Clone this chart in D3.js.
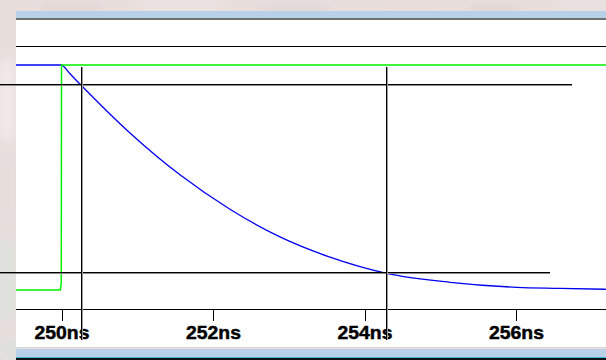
<!DOCTYPE html>
<html>
<head>
<meta charset="utf-8">
<script src="https://cdn.jsdelivr.net/npm/d3@7"></script>
<style>
  html, body { margin: 0; padding: 0; background: #e7dedc; }
  svg { display: block; }
</style>
</head>
<body>
<script>
// Time axis (ns)
const tickTimes = [250, 252, 254, 256];
const tickLabels = ["250ns", "252ns", "254ns", "256ns"];

// Falling output (blue): time in ns, normalized level
const outTimes  = [249.40, 250.00, 250.04, 250.11, 250.253, 250.904, 251.564, 252.224, 252.884, 253.545, 254.290, 255.129, 256.013, 256.581, 257.19];
const outLevels = [1.000, 1.000, 0.990, 0.962, 0.9124, 0.698, 0.512, 0.359, 0.236, 0.146, 0.0742, 0.0342, 0.0120, 0.0076, 0.0031];

// Input step (green)
const inTimes  = [249.40, 249.984, 249.997, 250.00, 257.19];
const inLevels = [0.000, 0.000, 0.031, 1.000, 1.000];

// Measurement cursors: 90% / 10% crossings
const cursorTimes  = [250.253, 254.290];
const cursorLevels = [0.9124, 0.0742];

const W = 606, H = 360;
const svg = d3.select("body").append("svg").attr("width", W).attr("height", H);

// soft textured backdrop around the window
const defs = svg.append("defs");
defs.append("filter").attr("id", "soft").attr("x", "-50%").attr("y", "-50%").attr("width", "200%").attr("height", "200%")
  .append("feGaussianBlur").attr("stdDeviation", 5);
svg.append("rect").attr("width", W).attr("height", H).attr("fill", "#e8dfdd");
const blobs = svg.append("g").attr("filter", "url(#soft)");
[
  [40, 4, 60, 8, "#e4d3d3"], [140, 2, 80, 10, "#ece4e2"], [260, 5, 70, 8, "#e1d6d5"],
  [380, 3, 60, 9, "#e9dcda"], [470, 6, 50, 8, "#ded4d2"], [560, 3, 60, 8, "#eae3e0"],
  [0, 60, 14, 80, "#f0eae8"], [0, 160, 14, 60, "#e5dfdc"], [0, 240, 14, 80, "#dde2dc"],
  [0, 340, 20, 20, "#dde0dc"]
].forEach(([x, y, w, h, c]) => blobs.append("rect").attr("x", x).attr("y", y).attr("width", w).attr("height", h).attr("fill", c));

// window chrome
const L = 16;
svg.append("rect").attr("x", L).attr("y", 11).attr("width", W - L).attr("height", 7).attr("fill", "#b8d0e8");
svg.append("rect").attr("x", L).attr("y", 18).attr("width", W - L).attr("height", 2).attr("fill", "#6f6f6f");
svg.append("rect").attr("x", L).attr("y", 20).attr("width", W - L).attr("height", 328).attr("fill", "#ffffff");
svg.append("rect").attr("x", L).attr("y", 347).attr("width", W - L).attr("height", 1).attr("fill", "#d6d6d6");
svg.append("rect").attr("x", L).attr("y", 349).attr("width", W - L).attr("height", 8).attr("fill", "#b8d0e8");
svg.append("rect").attr("x", L).attr("y", 357).attr("width", W - L).attr("height", 1).attr("fill", "#3fb8d8");
svg.append("rect").attr("x", L).attr("y", 358).attr("width", W - L).attr("height", 2).attr("fill", "#111");

// scales
const x = d3.scaleLinear().domain([250, 256]).range([61.5, 516]);
const y = d3.scaleLinear().domain([0, 1]).range([290, 65]);

// divider line above the traces
svg.append("line").attr("x1", L).attr("x2", W).attr("y1", 46.5).attr("y2", 46.5)
  .attr("stroke", "#000").attr("stroke-width", 1).attr("shape-rendering", "crispEdges");

// time axis
const axisY = 309.5;
svg.append("line").attr("x1", L).attr("x2", W).attr("y1", axisY).attr("y2", axisY)
  .attr("stroke", "#000").attr("stroke-width", 1).attr("shape-rendering", "crispEdges");
const axis = d3.axisBottom(x).tickValues(tickTimes).tickSize(11).tickPadding(0)
  .tickFormat((d, i) => tickLabels[i]);
const gAxis = svg.append("g").attr("transform", `translate(0,${axisY})`).call(axis);
gAxis.select(".domain").remove();
gAxis.selectAll(".tick line").attr("stroke", "#000").attr("shape-rendering", "crispEdges");
gAxis.selectAll(".tick text")
  .attr("y", 29.5).attr("dy", 0)
  .attr("fill", "#000").attr("stroke", "#000").attr("stroke-width", 0.45)
  .attr("font-family", "Arial, 'Liberation Sans', sans-serif")
  .attr("font-weight", "bold").attr("font-size", 18)
  .attr("textLength", 55).attr("lengthAdjust", "spacingAndGlyphs");

// traces
const line = d3.line().x(d => x(d[0])).y(d => y(d[1]));
svg.append("path")
  .datum(outTimes.map((t, i) => [t, outLevels[i]]))
  .attr("d", line.curve(d3.curveMonotoneX))
  .attr("fill", "none").attr("stroke", "#0000f0").attr("stroke-width", 1.3);
svg.append("path")
  .datum(inTimes.map((t, i) => [t, inLevels[i]]))
  .attr("d", d3.line().x(d => x(d[0])).y(d => y(d[1])))
  .attr("fill", "none").attr("stroke", "#00f000").attr("stroke-width", 1.5);

// cursors (black with a grey shadow)
const hEnds = [572, 550];
cursorLevels.forEach((v, i) => {
  const yy = Math.round(y(v)) - 0.5;
  svg.append("line").attr("x1", 0).attr("x2", hEnds[i]).attr("y1", yy + 1).attr("y2", yy + 1)
    .attr("stroke", "#8a8a8a").attr("stroke-width", 1).attr("shape-rendering", "crispEdges");
  svg.append("line").attr("x1", 0).attr("x2", hEnds[i]).attr("y1", yy).attr("y2", yy)
    .attr("stroke", "#000").attr("stroke-width", 1).attr("shape-rendering", "crispEdges");
});
cursorTimes.forEach(t => {
  const xx = Math.round(x(t)) + 0.5;
  svg.append("line").attr("x1", xx + 1).attr("x2", xx + 1).attr("y1", 67).attr("y2", 340)
    .attr("stroke", "#9a9a9a").attr("stroke-width", 1).attr("shape-rendering", "crispEdges");
  svg.append("line").attr("x1", xx).attr("x2", xx).attr("y1", 67).attr("y2", 340)
    .attr("stroke", "#000").attr("stroke-width", 1).attr("shape-rendering", "crispEdges");
});
</script>
</body>
</html>
